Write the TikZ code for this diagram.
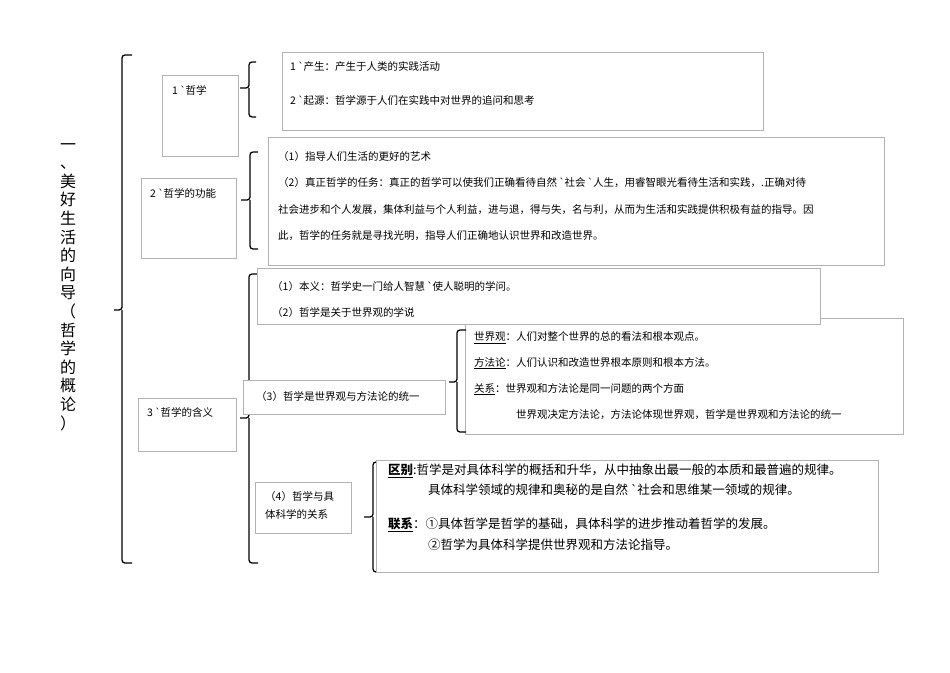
\documentclass[tikz,border=0pt]{standalone}
\usepackage{fontspec}
\setmainfont{Noto Sans CJK SC}
\newfontfamily\dv{DejaVu Sans}
\newcommand{\bq}{{\dv\symbol{96}}}
\begin{document}
\begin{tikzpicture}[x=1pt,y=-1pt,
  bx/.style={draw=black!30,fill=white,line width=0.6pt},
  tx/.style={anchor=west,inner sep=0pt,font=\fontsize{10.5}{12}\selectfont},
  tb/.style={anchor=west,inner sep=0pt,font=\fontsize{12.5}{14}\selectfont},
  br/.style={line width=1.3pt,rounded corners=3pt}]
\useasboundingbox (0,0) rectangle (950,672);
% title
\node[inner sep=0pt,anchor=north,align=center,font=\fontsize{16}{18.6}\selectfont] (title) at (68,143)
 {一\\、\\美\\好\\生\\活\\的\\向\\导\\（\\哲\\学\\的\\概\\论\\）};
% main bracket
\draw[br] (132,55)--(122,55)--(122,310)--(114,310) (122,310)--(122,563)--(132,563);
% section 1
\node[bx,minimum width=76,minimum height=81,anchor=north west] (b1) at (162,75) {};
\node[tx] (t1) at (172,90) {1 \bq 哲学};
\draw[br] (256,62)--(249,62)--(249,88)--(240,88) (249,88)--(249,117)--(256,117);
\node[bx,minimum width=481,minimum height=78,anchor=north west] (c1) at (282,52) {};
\node[tx] at (290,67) {1 \bq 产生：产生于人类的实践活动};
\node[tx] at (290,101) {2 \bq 起源：哲学源于人们在实践中对世界的追问和思考};
% section 2
\node[bx,minimum width=95,minimum height=80,anchor=north west] (b2) at (141,178) {};
\node[tx] at (150,193) {2 \bq 哲学的功能};
\draw[br] (258,152)--(250,152)--(250,200)--(241,200) (250,200)--(250,249)--(258,249);
\node[bx,minimum width=616,minimum height=128,anchor=north west] (c2) at (268,137) {};
\node[tx] at (278,157) {（1）指导人们生活的更好的艺术};
\node[tx] at (278,183) {（2）真正哲学的任务：真正的哲学可以使我们正确看待自然 \bq 社会 \bq 人生，用睿智眼光看待生活和实践，.正确对待};
\node[tx] at (278,210) {社会进步和个人发展，集体利益与个人利益，进与退，得与失，名与利，从而为生活和实践提供积极有益的指导。因};
\node[tx] at (278,236) {此，哲学的任务就是寻找光明，指导人们正确地认识世界和改造世界。};
% section 3
\node[bx,minimum width=98,minimum height=53,anchor=north west] (b3) at (138,398) {};
\node[tx] at (147,412) {3 \bq 哲学的含义};
\draw[br] (258,274)--(249,274)--(249,418)--(240,418) (249,418)--(249,563)--(258,563);
% world view box (behind)
\node[bx,minimum width=438,minimum height=116,anchor=north west] (c3b) at (465,318) {};
\node[tx] at (474,338) {\underline{世界观}：人们对整个世界的总的看法和根本观点。};
\node[tx] at (474,363) {\underline{方法论}：人们认识和改造世界根本原则和根本方法。};
\node[tx] at (474,389) {\underline{关系}：世界观和方法论是同一问题的两个方面};
\node[tx] at (516,415) {世界观决定方法论，方法论体现世界观，哲学是世界观和方法论的统一};
\draw[br] (466,330)--(457,330)--(457,382)--(449,382) (457,382)--(457,432)--(466,432);
\node[bx,minimum width=563,minimum height=56,anchor=north west] (c3a) at (257,268) {};
\node[tx] at (272,287) {（1）本义：哲学史一门给人智慧 \bq 使人聪明的学问。};
\node[tx] at (272,313) {（2）哲学是关于世界观的学说};
\node[bx,minimum width=202,minimum height=34,anchor=north west] (b33) at (243,380) {};
\node[tx] at (256,397) {（3）哲学是世界观与方法论的统一};
\node[bx,minimum width=96,minimum height=51,anchor=north west] (b34) at (255,482) {};
\node[tx] at (265,497) {（4）哲学与具};
\node[tx] at (265,514) {体科学的关系};
\draw[br] (381,462)--(373,462)--(373,517)--(364,517) (373,517)--(373,572)--(381,572);
\node[bx,minimum width=502,minimum height=112,anchor=north west] (c34) at (376,460) {};
\node[tb] at (388,471) {\textbf{\underline{区别}}:哲学是对具体科学的概括和升华，从中抽象出最一般的本质和最普遍的规律。};
\node[tb] at (428,490) {具体科学领域的规律和奥秘的是自然 \bq 社会和思维某一领域的规律。};
\node[tb] at (388,525) {\textbf{\underline{联系}}：①具体哲学是哲学的基础，具体科学的进步推动着哲学的发展。};
\node[tb] at (428,545) {②哲学为具体科学提供世界观和方法论指导。};
\end{tikzpicture}
\end{document}
